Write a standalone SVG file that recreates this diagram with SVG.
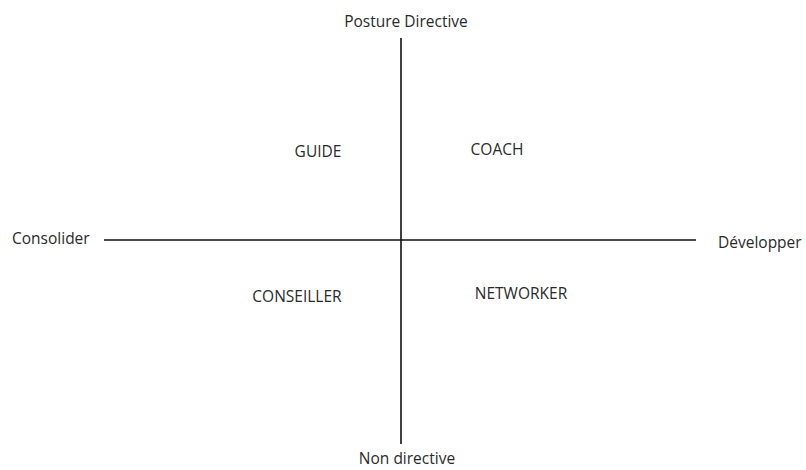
<svg xmlns="http://www.w3.org/2000/svg" width="806" height="470" viewBox="0 0 806 470">
<style>
.t{font-family:"Open Sans","Liberation Sans",sans-serif;font-size:15.5px;fill:#2a2a2a}
.ax{stroke:#111;stroke-width:1.6;fill:none}
</style>
<rect width="806" height="470" fill="#fff"/>
<g id="connectors">
<line class="ax" x1="401" y1="38" x2="401" y2="444"/>
<line class="ax" x1="104" y1="240" x2="696" y2="240"/>
</g>
<g id="top"><text class="t" x="406" y="27" text-anchor="middle">Posture Directive</text></g>
<g id="bottom"><text class="t" x="407" y="464" text-anchor="middle">Non directive</text></g>
<g id="left"><text class="t" x="12" y="244">Consolider</text></g>
<g id="right"><text class="t" x="718" y="248">Développer</text></g>
<g id="guide"><text class="t" x="318" y="157" text-anchor="middle">GUIDE</text></g>
<g id="coach"><text class="t" x="497" y="155" text-anchor="middle">COACH</text></g>
<g id="conseiller"><text class="t" x="297" y="302" text-anchor="middle">CONSEILLER</text></g>
<g id="networker"><text class="t" x="521" y="299" text-anchor="middle">NETWORKER</text></g>
</svg>
